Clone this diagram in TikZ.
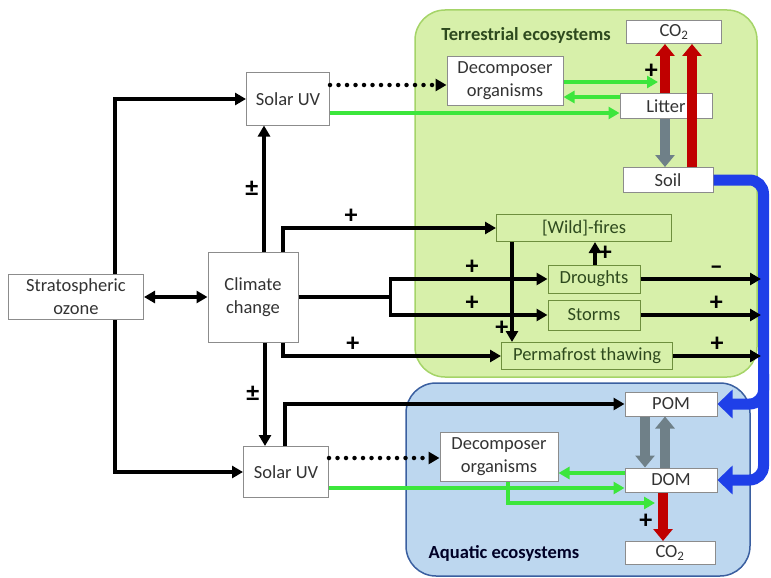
\documentclass[tikz,border=0pt]{standalone}
\usepackage{fontspec}
\setmainfont{Carlito}
\usetikzlibrary{arrows.meta}
\definecolor{terrfill}{HTML}{D7F0AA}
\definecolor{terrline}{HTML}{A5D468}
\definecolor{aquafill}{HTML}{BDD7EF}
\definecolor{aqualine}{HTML}{3A5FA0}
\definecolor{uvgreen}{HTML}{3CE63C}
\definecolor{co2red}{HTML}{C00000}
\definecolor{omgray}{HTML}{6F8088}
\definecolor{runoff}{HTML}{1F3FE8}
\definecolor{boxline}{HTML}{8C8C8C}
\definecolor{boxtext}{HTML}{333333}
\definecolor{terrtext}{HTML}{2E4A1E}
\definecolor{terrbox}{HTML}{6E8F3E}

\begin{document}
\begin{tikzpicture}[x=1pt, y=-1pt,
    every node/.style={font=\fontsize{18.5}{23}\selectfont, text=boxtext, align=center, inner sep=0pt},
    plainnode/.style={shape=rectangle, draw=boxline, fill=white, line width=1},
    terrnode/.style={shape=rectangle, draw=terrbox, fill=terrfill, text=terrtext, line width=1},
    sign/.style={text=black, font=\fontsize{26}{26}\selectfont\bfseries},
    blk/.style={-{Triangle[length=11pt,width=12pt]}, line width=3.5, black},
    blkboth/.style={{Triangle[length=11pt,width=12pt]}-{Triangle[length=11pt,width=12pt]}, line width=3.5, black},
    dotarrow/.style={-{Triangle[length=11pt,width=12pt]}, line width=4.5, black, dash pattern=on 0pt off 8.5pt, line cap=round},
    greenarrow/.style={-{Triangle[length=11pt,width=12pt]}, line width=4, uvgreen},
    redarrow/.style={-{Triangle[length=12pt,width=19pt]}, line width=9.5, co2red},
    grayarrow/.style={-{Triangle[length=12pt,width=19pt]}, line width=9.5, omgray},
    bluearrow/.style={-{Triangle[length=15pt,width=28pt]}, line width=11, runoff, rounded corners=14pt}
]
\useasboundingbox (0,0) rectangle (771,578);

% Ecosystem backgrounds
\draw[terrline, fill=terrfill, line width=1.5, rounded corners=30pt] (415,10) rectangle (757,377);
\draw[aqualine, fill=aquafill, line width=1.5, rounded corners=30pt] (406,383) rectangle (750,576);

% Boxes

% outside
\node[plainnode, minimum width=135, minimum height=45] (ozone) at (76,297) {Stratospheric\\ozone};
\node[plainnode, minimum width=90, minimum height=90] (climate) at (253,297) {Climate\\change};
\node[plainnode, minimum width=83, minimum height=52] (uvtop) at (288,99) {Solar UV};
\node[plainnode, minimum width=85, minimum height=51] (uvbot) at (286,472) {Solar UV};

% terrestrial
\node[text=terrtext, font=\fontsize{18.5}{18.5}\selectfont\bfseries] (terrlabel) at (526,35) {Terrestrial ecosystems};
\node[plainnode, minimum width=95, minimum height=23] (co2top) at (674,32) {CO\textsubscript{2}};
\node[plainnode, minimum width=116, minimum height=48] (decotop) at (505,81) {Decomposer\\organisms};
\node[plainnode, minimum width=92, minimum height=25] (litter) at (666,106) {Litter};
\node[plainnode, minimum width=90, minimum height=25] (soil) at (668,180) {Soil};
\node[terrnode, minimum width=175, minimum height=27] (fires) at (584,228) {[Wild]-fires};
\node[terrnode, minimum width=92, minimum height=28] (droughts) at (594,279) {Droughts};
\node[terrnode, minimum width=92, minimum height=30] (storms) at (594,315) {Storms};
\node[terrnode, minimum width=171, minimum height=27] (permafrost) at (587,356) {Permafrost thawing};

% aquatic
\node[plainnode, minimum width=92, minimum height=24] (pom) at (671,404) {POM};
\node[plainnode, minimum width=118, minimum height=49] (decobot) at (499,457) {Decomposer\\organisms};
\node[plainnode, minimum width=92, minimum height=24] (dom) at (671,480) {DOM};
\node[plainnode, minimum width=90, minimum height=23] (co2bot) at (670,553) {CO\textsubscript{2}};
\node[text=black!85!blue, font=\fontsize{18.5}{18.5}\selectfont\bfseries] (aqualabel) at (504,553) {Aquatic ecosystems};

% Coordinates
\coordinate (litter_co2) at (658,82);
\coordinate (dom_co2) at (655,503);
\coordinate (droughts_out) at (761,279);
\coordinate (storms_out) at (761,315);
\coordinate (permafrost_out) at (761,356);

% Arrows
\draw[blk] ([xshift=39pt]ozone.north) |- (uvtop.west);
\draw[blk] ([xshift=39pt]ozone.south) |- (uvbot.west);
\draw[blkboth] (ozone.east) -- (climate.west);

\draw[blk] ([xshift=11pt]climate.north) -- ([xshift=11pt]climate.north |- uvtop.south) node[sign, midway, left=4pt] {±};
\draw[blk] ([xshift=12pt]climate.south) -- ([xshift=12pt]climate.south |- uvbot.north) node[sign, midway, left=4pt] {±};
\draw[blk] ([xshift=30pt]climate.north) |- (fires.west) node[sign, pos=.66, above=3pt] {+};
\draw[blk] ([xshift=30pt]climate.south) |- (permafrost.west) node[sign, pos=.66, above=3pt] {+};
\draw[line width=3.5] (climate.east) -- ++(92,0) coordinate (split);
\draw[blk] (split) |- (droughts.west) node[sign, pos=.76, above=3pt] {+};
\draw[blk] (split) |- (storms.west) node[sign, pos=.76, above=3pt] {+};
\draw[blk] ([xshift=-1pt]uvbot.north) |- (pom.west);

\draw[blk] ([xshift=-72pt]fires.south) -- ([xshift=-72pt]fires.south |- permafrost.north) node[sign, pos=.86, left=2pt] {+};
\draw[blk] ([xshift=1pt]droughts.north) -- ([xshift=1pt]droughts.north |- fires.south) node[sign, midway, right=2pt] {+};

% runoff to water
\draw[bluearrow] (soil.east) -| ([xshift=46pt]dom.east) -- (dom.east);
\draw[bluearrow] ([xshift=46pt, yshift=30pt]pom.east) -- ([xshift=46pt]pom.east) -- (pom.east);

\draw[blk] (droughts.east) -- (droughts_out) node[sign, pos=.63, above=3pt] {–};
\draw[blk] (storms.east) -- (storms_out) node[sign, pos=.63, above=3pt] {+};
\draw[blk] (permafrost.east) -- (permafrost_out) node[sign, pos=.5, above=3pt] {+};

% solar UV effects
\draw[dotarrow] ([yshift=14pt]uvtop.east) -- ([yshift=14pt]uvtop.east -| decotop.west);
\draw[greenarrow] ([yshift=-14pt]uvtop.east) -- ([yshift=-14pt]uvtop.east -| litter.west);
\draw[dotarrow] ([yshift=14pt]uvbot.east) -- ([yshift=14pt]uvbot.east -| decobot.west);
\draw[greenarrow] ([yshift=-16pt]uvbot.east) -- ([yshift=-16pt]uvbot.east -| dom.west);

% terrestrial carbon
\draw[greenarrow] ([yshift=-1pt]decotop.east) -- (litter_co2) node[sign, pos=.93, above=2pt] {+};
\draw[greenarrow] ([yshift=9pt]litter.west) -- ([yshift=9pt]litter.west -| decotop.east);
\draw[redarrow] ([xshift=-1pt]litter.north) -- ([xshift=-1pt]litter.north |- co2top.south);
\draw[redarrow] ([xshift=24pt]soil.north) -- ([xshift=24pt]soil.north |- co2top.south);
\draw[grayarrow] ([xshift=-1pt]litter.south) -- ([xshift=-1pt]litter.south |- soil.north);

% aquatic carbon
\draw[grayarrow] ([xshift=-26pt]pom.south) -- ([xshift=-26pt]pom.south |- dom.north);
\draw[grayarrow] ([xshift=-6pt]dom.north) -- ([xshift=-6pt]dom.north |- pom.south);
\draw[greenarrow] ([yshift=7pt]dom.west) -- ([yshift=7pt]dom.west -| decobot.east);
\draw[greenarrow] ([xshift=9pt]decobot.south) |- (dom_co2);
\draw[redarrow] ([xshift=-8pt]dom.south) -- ([xshift=-8pt]dom.south |- co2bot.north) node[sign, pos=.6, left=6pt] {+};

\end{tikzpicture}
\end{document}
